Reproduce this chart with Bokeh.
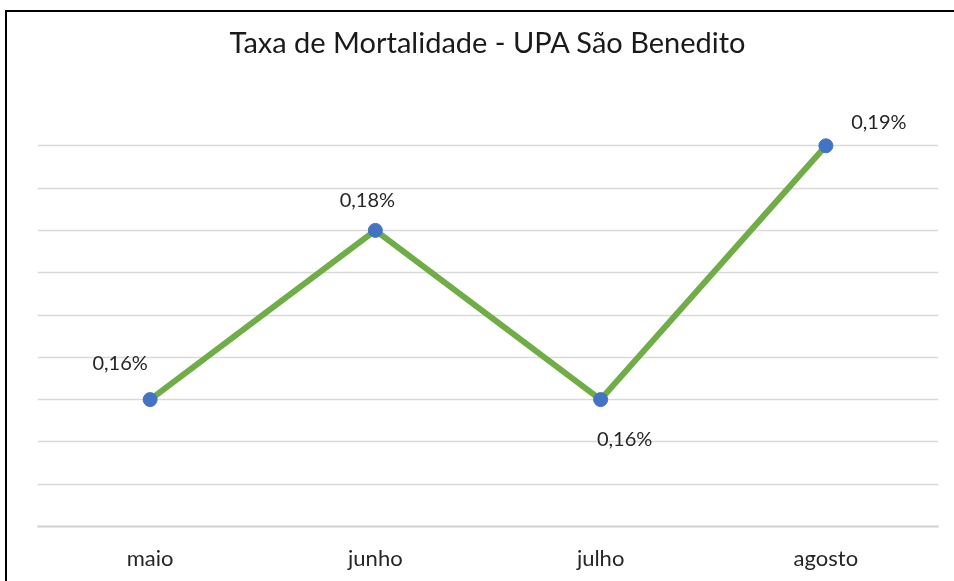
from bokeh.plotting import figure
from bokeh.models import ColumnDataSource, FixedTicker, Title
from bokeh.core.properties import value
from bokeh.embed import file_html
from bokeh.resources import INLINE

title_text = "Taxa de Mortalidade - UPA São Benedito"
months = ["maio", "junho", "julho", "agosto"]
rates = [0.16, 0.18, 0.16, 0.19]
grid_ticks = [0.145, 0.150, 0.155, 0.160, 0.165, 0.170, 0.175, 0.180, 0.185, 0.190, 0.195]

labels = [("%.2f%%" % r).replace(".", ",") for r in rates]
lab_dx = [-30, -8, 24, 53]
lab_dy = [-38, -31, 38, -25]

src = ColumnDataSource(dict(x=months, y=rates, t=labels, dx=lab_dx, dy=lab_dy))

FONT = "Lato"
p = figure(x_range=months, y_range=(0.145, 0.195), width=960, height=580,
           output_backend="svg", toolbar_location=None,
           min_border_left=30, min_border_right=29, min_border_top=91, min_border_bottom=66)
p.styles = {"position": "fixed", "left": "5px", "top": "10px",
            "border-left": "2px solid #000000", "border-top": "2px solid #000000"}
p.outline_line_color = None

spacer = Title(text=" ", text_font_size="1px", standoff=42)
main_title = Title(text=title_text, align="center", text_font=FONT,
                   text_font_style="normal", text_font_size="29px",
                   text_color="#1a1a1a", standoff=0)
p.add_layout(spacer, "above")
p.add_layout(main_title, "above")

p.yaxis.visible = False
p.ygrid.ticker = FixedTicker(ticks=grid_ticks)
p.ygrid.grid_line_color = "#d9d9d9"
p.ygrid.grid_line_width = 1.5
p.xgrid.grid_line_color = None

p.xaxis.axis_line_color = "#d0d0d0"
p.xaxis.axis_line_width = 2
p.xaxis.major_tick_line_color = None
p.xaxis.minor_tick_line_color = None
p.xaxis.major_label_standoff = 11
p.xaxis.major_label_text_font = FONT
p.xaxis.major_label_text_font_size = "22px"
p.xaxis.major_label_text_color = "#262626"

p.line("x", "y", source=src, line_color="#70ad47", line_width=6)
p.scatter("x", "y", source=src, size=14, fill_color="#4472c4", line_color="#4472c4")
p.text("x", "y", text="t", source=src, x_offset="dx", y_offset="dy",
       text_align="center", text_baseline="middle", text_font=value(FONT),
       text_font_size="20px", text_color="#262626")

open("out.html", "w").write(file_html(p, INLINE))
